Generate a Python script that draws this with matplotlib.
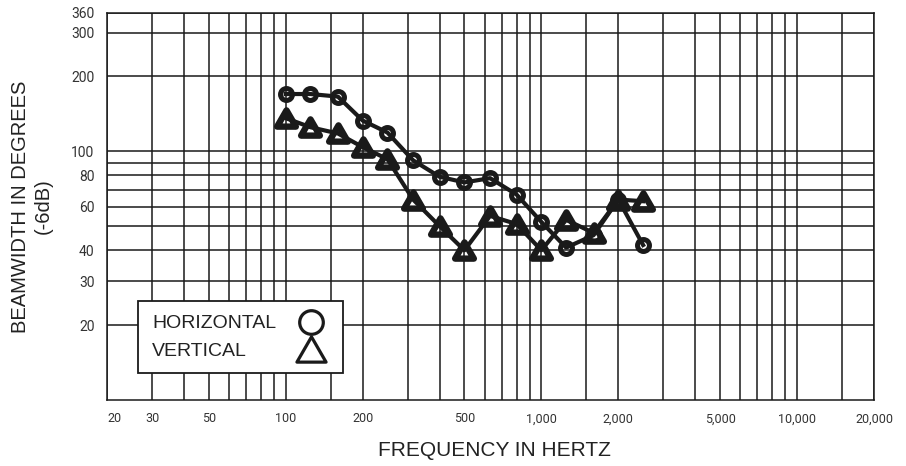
import matplotlib
matplotlib.use("Agg")
import matplotlib.pyplot as plt
from matplotlib.lines import Line2D
from matplotlib.path import Path

# ---------------- data ----------------
freq_hz = [100, 125, 160, 200, 250, 315, 400, 500, 630, 800, 1000, 1250, 1600, 2000, 2500]
horizontal_deg = [170, 170, 166, 133, 119, 92, 79, 75, 78, 67, 52, 41, 46, 64, 42]
vertical_deg = [136, 125, 118, 104, 93, 64, 50, 40, 55, 51, 40, 53, 47, 64, 63]

x_grid = [20, 30, 40, 50, 60, 70, 80, 90, 100, 150, 200, 300, 400, 500, 600, 700, 800, 900,
          1000, 1500, 2000, 3000, 4000, 5000, 6000, 7000, 8000, 9000, 10000, 15000, 20000]
x_labels = {20: "20", 30: "30", 50: "50", 100: "100", 200: "200", 500: "500", 1000: "1,000",
            2000: "2,000", 5000: "5,000", 10000: "10,000", 20000: "20,000"}
y_grid = [20, 30, 40, 50, 60, 70, 80, 90, 100, 200, 300, 360]
y_labels = {20: "20", 30: "30", 40: "40", 60: "60", 80: "80", 100: "100", 200: "200",
            300: "300", 360: "360"}
series_names = ["HORIZONTAL", "VERTICAL"]

# ---------------- style ----------------
plt.rcParams['font.family'] = ['Liberation Sans', 'DejaVu Sans']
INK = "#1a1a1a"

tri = Path([(-1, -0.866), (1, -0.866), (0, 0.866), (-1, -0.866)],
           [Path.MOVETO, Path.LINETO, Path.LINETO, Path.CLOSEPOLY])

fig = plt.figure(figsize=(9.06, 4.66), dpi=100)
ax = fig.add_axes([107 / 906, 66 / 466, 767 / 906, 387 / 466])
ax.set_xscale('log')
ax.set_yscale('log')
ax.set_xlim(20, 20000)
ax.set_ylim(10, 360)

ax.set_xticks(x_grid)
ax.set_xticklabels([x_labels.get(v, "") for v in x_grid])
ax.set_xticks([], minor=True)
ax.set_yticks(y_grid)
ax.set_yticklabels([y_labels.get(v, "") for v in y_grid])
ax.set_yticks([], minor=True)
ax.tick_params(axis='both', which='both', length=0, colors='#333333')
ax.tick_params(axis='x', pad=9, labelsize=9)
ax.tick_params(axis='y', pad=9, labelsize=10)
for lab in ax.get_xticklabels() + ax.get_yticklabels():
    lab.set_fontfamily(['Roboto', 'DejaVu Sans'])
xt = ax.get_xticklabels()
xt[0].set_horizontalalignment('left')

ax.grid(True, which='major', color=INK, linewidth=1.1)
ax.set_axisbelow(True)
for sp in ax.spines.values():
    sp.set_color(INK)
    sp.set_linewidth(1.1)

ax.plot(freq_hz, horizontal_deg, color=INK, linewidth=3.0, marker='o', markersize=8.6,
        markeredgewidth=3.6, markerfacecolor='none', markeredgecolor=INK, zorder=3)
ax.plot(freq_hz, vertical_deg, color=INK, linewidth=3.0, marker=tri, markersize=13.5,
        markeredgewidth=4.6, markerfacecolor='none', markeredgecolor=INK, zorder=3)

ax.set_xlabel("FREQUENCY IN HERTZ", fontsize=15, color='#222222')
ax.xaxis.label.set_verticalalignment('center')
ax.xaxis.set_label_coords(0.5055, (400 - 451) / 387)
ax.set_ylabel("BEAMWIDTH IN DEGREES\n(-6dB)", fontsize=14.5, color='#222222',
              linespacing=1.25)
ax.yaxis.label.set_verticalalignment('center')
ax.yaxis.set_label_coords((32 - 107) / 767, 0.50)

handles = [
    Line2D([], [], linestyle='none', marker='o', markersize=17, markeredgewidth=2.3,
           markerfacecolor='none', markeredgecolor=INK),
    Line2D([], [], linestyle='none', marker=tri, markersize=21, markeredgewidth=2.3,
           markerfacecolor='none', markeredgecolor=INK),
]
leg = ax.legend(handles, series_names, loc='lower left', bbox_to_anchor=(0.0408, 0.069),
                borderaxespad=0, markerfirst=False, fontsize=14, handlelength=1.9,
                handletextpad=0.6, labelspacing=0.5, borderpad=0.7, fancybox=False,
                framealpha=1, edgecolor=INK, facecolor='white')
leg.get_frame().set_linewidth(1.3)
for t in leg.get_texts():
    t.set_color('#222222')
leg.set_zorder(5)
# left-align the labels while keeping the symbols aligned on the right
row_width = 205 - 2 * 0.7 * 14 * 100 / 72
for col in leg._legend_handle_box.get_children():
    col.align = 'left'
    for row in col.get_children():
        row.mode = 'expand'
        row.width = row_width

fig.savefig("out.png", dpi=100)
